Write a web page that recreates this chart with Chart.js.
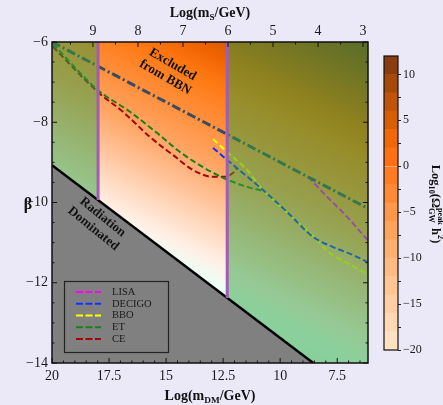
<!DOCTYPE html>
<html>
<head>
<meta charset="utf-8">
<script src="https://cdn.jsdelivr.net/npm/chart.js@4.4.0/dist/chart.umd.min.js"></script>
<style>
  html, body { margin: 0; padding: 0; background: #ebe9f8; }
  #wrap { position: relative; width: 443px; height: 405px; }
  #main { position: absolute; left: 0; top: 0; }
  #bar { position: absolute; left: 370px; top: 0; }
</style>
</head>
<body>
<div id="wrap">
  <canvas id="main" width="443" height="405"></canvas>
  <canvas id="bar" width="73" height="405"></canvas>
</div>
<script>
// x = Log(m_DM/GeV), y = beta
const lisaM = [8.77, 7.94, 7.06, 6.18];
const lisaBeta = [-9.36, -9.86, -10.36, -10.93];
const decigoM = [12.94, 12.32, 10.75, 9.69, 8.55, 7.68, 6.80, 6.18];
const decigoBeta = [-8.64, -8.94, -9.69, -10.24, -10.86, -11.11, -11.31, -11.48];
const bboM = [12.94, 12.32, 11.45, 10.75, 9.69, 8.55, 7.94, 7.06, 6.18];
const bboBeta = [-8.42, -8.74, -9.19, -9.69, -10.26, -10.83, -11.21, -11.51, -11.78];
const etM = [19.96, 17.98, 16.58, 15.39, 14.39, 13.38, 12.76, 12.28, 11.45, 10.75];
const etBeta = [-6.05, -7.20, -7.74, -8.27, -8.74, -9.12, -9.31, -9.44, -9.61, -9.71];
const ceM = [19.96, 17.98, 16.89, 15.70, 14.69, 13.82, 12.94, 12.41, 12.06, 11.89];
const ceBeta = [-6.12, -7.25, -7.74, -8.37, -8.82, -9.19, -9.36, -9.36, -9.26, -9.14];

const bbnM = [20, 6.15];
const bbnBeta = [-6, -10.15];
const radM = [20, 8.55];
const radBeta = [-9.07, -14];
// vertical bounds of the unshaded band
const bandM = [17.98, 12.32];
const bandBottomBeta = [-9.94, -12.38];

// heat map direction (low -> high), data coords
const heatFrom = [15.7, -12.43];
const heatTo = [9.12, -4.95];

// colour bar
const cbLevels = [-20, -18, -16, -14, -12, -10, -8, -6, -4, -2, 0, 2, 4, 6, 8, 10, 12];
const cbColors = ['#ffe0c2', '#ffd8b4', '#ffcfa4', '#ffc694', '#ffbb82', '#ffb070', '#ffa45c', '#ff984a',
  '#ff8a36', '#ff7c22', '#ff7010', '#f06808', '#d85e06', '#c05408', '#a64a0c', '#8a3e10'];

const seriesNames = ['LISA', 'DECIGO', 'BBO', 'ET', 'CE'];
const seriesColors = ['#ff00ff', '#1030ff', '#ffff00', '#188018', '#a00808'];

const heatStops = [[0, '#d4fff8'], [0.12, '#eafff8'], [0.19, '#fff0e6'], [0.26, '#ffdcc4'], [0.34, '#ffc49c'],
  [0.45, '#ffa462'], [0.57, '#ff8c36'], [0.66, '#ff7a14'], [0.74, '#f06400'], [0.82, '#cc5404'],
  [0.90, '#a8460c'], [1, '#7a3812']];

const FONT = '"Liberation Serif", serif';
Chart.defaults.font.family = FONT;
Chart.defaults.color = '#1a1a1a';

function pts(xs, ys) {
    return xs.map((v, i) => ({x: v, y: ys[i]}));
}

function minus(v) {
    return v < 0 ? '\u2212' + Math.abs(v) : String(v);
}

function near(v, step) {
    return Math.abs(v / step - Math.round(v / step)) < 1e-6;
}

function drawRich(ctx, parts, x, y, size) {
    const small = size * 0.66;
    const fn = 'bold ' + size + 'px ' + FONT;
    const fs = 'bold ' + small + 'px ' + FONT;
    const widths = parts.map(p => {
        if (p[1] === 0) { ctx.font = fn; return ctx.measureText(p[0]).width; }
        ctx.font = fs;
        let w = ctx.measureText(p[0]).width;
        if (p[2]) w = Math.max(w, ctx.measureText(p[2]).width);
        return w;
    });
    let cx = x - widths.reduce((a, b) => a + b, 0) / 2;
    ctx.textAlign = 'left';
    ctx.textBaseline = 'middle';
    parts.forEach((p, i) => {
        if (p[1] === 0) {
            ctx.font = fn;
            ctx.fillText(p[0], cx, y);
        } else {
            ctx.font = fs;
            if (p[1] === 1) ctx.fillText(p[0], cx, y + size * 0.3);
            if (p[1] === 2) ctx.fillText(p[0], cx, y - size * 0.38);
            if (p[2]) ctx.fillText(p[2], cx, y - size * 0.42);
        }
        cx += widths[i];
    });
}

const heatPlugin = {
    id: 'heat',
    beforeDatasetsDraw(chart) {
        const {ctx, chartArea: a, scales: {x, y}} = chart;
        const g = ctx.createLinearGradient(x.getPixelForValue(heatFrom[0]), y.getPixelForValue(heatFrom[1]),
            x.getPixelForValue(heatTo[0]), y.getPixelForValue(heatTo[1]));
        heatStops.forEach(s => g.addColorStop(s[0], s[1]));
        ctx.save();
        ctx.fillStyle = g;
        ctx.fillRect(a.left, a.top, a.width, a.height);
        ctx.restore();
    }
};

const decorPlugin = {
    id: 'decor',
    afterDatasetsDraw(chart) {
        const {ctx, chartArea: a, scales} = chart;
        ctx.save();
        ctx.fillStyle = '#111';

        // region labels
        ctx.font = 'bold 13px ' + FONT;
        ctx.textAlign = 'center';
        ctx.textBaseline = 'middle';
        ctx.save();
        ctx.translate(169, 71);
        ctx.rotate(30 * Math.PI / 180);
        ctx.fillText('Excluded', 0, -7.5);
        ctx.fillText('from BBN', 0, 7.5);
        ctx.restore();
        ctx.save();
        ctx.translate(98, 223);
        ctx.rotate(39 * Math.PI / 180);
        ctx.fillText('Radiation', 0, -7.5);
        ctx.fillText('Dominated', 0, 7.5);
        ctx.restore();

        // legend
        ctx.strokeStyle = '#222';
        ctx.lineWidth = 1.2;
        ctx.strokeRect(64.5, 281.5, 104, 71);
        ctx.font = '10.5px ' + FONT;
        ctx.textAlign = 'left';
        seriesNames.forEach((name, i) => {
            const yy = 292 + i * 11.75;
            ctx.save();
            ctx.strokeStyle = seriesColors[i];
            ctx.lineWidth = 2;
            ctx.setLineDash([7, 2.5]);
            ctx.beginPath();
            ctx.moveTo(76, yy);
            ctx.lineTo(101, yy);
            ctx.stroke();
            ctx.restore();
            ctx.fillStyle = '#1a1a1a';
            ctx.fillText(name, 112, yy);
        });

        // frame
        ctx.strokeStyle = '#111';
        ctx.lineWidth = 1.5;
        ctx.strokeRect(a.left, a.top, a.right - a.left, a.bottom - a.top);

        // inward ticks
        ctx.lineWidth = 1;
        ctx.beginPath();
        scales.x.ticks.forEach(t => {
            const p = scales.x.getPixelForValue(t.value);
            const l = t.label ? 5 : 2.5;
            ctx.moveTo(p, a.bottom); ctx.lineTo(p, a.bottom - l);
        });
        scales.x2.ticks.forEach(t => {
            const p = scales.x2.getPixelForValue(t.value);
            const l = t.label ? 5 : 2.5;
            ctx.moveTo(p, a.top); ctx.lineTo(p, a.top + l);
        });
        scales.y.ticks.forEach(t => {
            const p = scales.y.getPixelForValue(t.value);
            const l = t.label ? 5 : 2.5;
            ctx.moveTo(a.left, p); ctx.lineTo(a.left + l, p);
            ctx.moveTo(a.right, p); ctx.lineTo(a.right - l, p);
        });
        ctx.stroke();
        ctx.restore();
    },
    afterDraw(chart) {
        const ctx = chart.ctx;
        ctx.save();
        ctx.fillStyle = '#111';
        drawRich(ctx, [['Log(m', 0], ['S', 1], ['/GeV)', 0]], 210, 13, 14);
        drawRich(ctx, [['Log(m', 0], ['DM', 1], ['/GeV)', 0]], 210, 396, 14);
        ctx.font = 'bold 16px ' + FONT;
        ctx.textAlign = 'center';
        ctx.textBaseline = 'middle';
        ctx.fillText('\u03b2', 28, 205);
        ctx.restore();
    }
};

const gwData = [[lisaM, lisaBeta], [decigoM, decigoBeta], [bboM, bboBeta], [etM, etBeta], [ceM, ceBeta]];
const gwSets = gwData.map((d, i) => ({
    label: seriesNames[i],
    data: pts(d[0], d[1]),
    borderColor: seriesColors[i],
    borderWidth: 2,
    borderDash: [6, 3],
    cubicInterpolationMode: 'monotone',
    order: 5
}));

const shade = 'rgba(48,160,64,0.5)';

new Chart(document.getElementById('main'), {
    type: 'line',
    data: {
        datasets: [
            {label: 'band left', data: pts([bandM[0], bandM[0]], [-6, bandBottomBeta[0]]),
                borderColor: '#a25cb6', borderWidth: 3, order: 1},
            {label: 'band right', data: pts([bandM[1], bandM[1]], [-6, bandBottomBeta[1]]),
                borderColor: '#a25cb6', borderWidth: 3, order: 1},
            {label: 'Radiation Dominated', data: pts(radM, radBeta),
                borderColor: '#000', borderWidth: 2.5, backgroundColor: '#808080', fill: 'start', order: 2},
            {label: 'shade left', data: pts([20, bandM[0]], [-6, -6]),
                borderColor: 'transparent', borderWidth: 0, backgroundColor: shade, fill: 'start', order: 3},
            {label: 'shade right', data: pts([bandM[1], 6.15], [-6, -6]),
                borderColor: 'transparent', borderWidth: 0, backgroundColor: shade, fill: 'start', order: 3},
            {label: 'BBN', data: pts(bbnM, bbnBeta),
                borderColor: '#3b4a5e', borderWidth: 3, borderDash: [9, 3, 2, 3], order: 4},
            ...gwSets
        ]
    },
    options: {
        responsive: false,
        animation: false,
        layout: {padding: {left: 0, right: 75, top: 0, bottom: 0}},
        elements: {point: {radius: 0}, line: {tension: 0, fill: false}},
        plugins: {legend: {display: false}, tooltip: {enabled: false}},
        scales: {
            x: {
                type: 'linear', position: 'bottom', min: 6.15, max: 20, reverse: true,
                grid: {display: false, drawTicks: false}, border: {display: false},
                ticks: {
                    stepSize: 0.5, autoSkip: false, maxRotation: 0, minRotation: 0, includeBounds: false,
                    padding: 5, font: {size: 14},
                    callback: v => near(v, 2.5) ? (near(v, 1) ? String(Math.round(v)) : v.toFixed(1)) : ''
                },
                afterFit: s => { s.height = 42; }
            },
            x2: {
                type: 'linear', position: 'top', min: 2.89, max: 9.91, reverse: true,
                grid: {display: false, drawTicks: false}, border: {display: false},
                ticks: {
                    stepSize: 0.5, autoSkip: false, maxRotation: 0, minRotation: 0, includeBounds: false,
                    padding: 2, font: {size: 14},
                    callback: v => near(v, 1) ? String(Math.round(v)) : ''
                },
                afterFit: s => { s.height = 42; }
            },
            y: {
                type: 'linear', min: -14, max: -6,
                grid: {display: false, drawTicks: false}, border: {display: false},
                ticks: {
                    stepSize: 0.5, autoSkip: false, includeBounds: false, padding: 4, font: {size: 14},
                    callback: v => near(v, 2) ? minus(Math.round(v)) : ''
                },
                afterFit: s => { s.width = 52; }
            }
        }
    },
    plugins: [heatPlugin, decorPlugin]
});

const barPlugin = {
    id: 'cbframe',
    afterDraw(chart) {
        const {ctx, chartArea: a} = chart;
        ctx.save();
        ctx.strokeStyle = '#111';
        ctx.lineWidth = 1.2;
        ctx.strokeRect(a.left, a.top, a.right - a.left, a.bottom - a.top);
        ctx.fillStyle = '#111';
        ctx.translate(65, 204);
        ctx.rotate(Math.PI / 2);
        drawRich(ctx, [['Log', 0], ['10', 1], ['(\u03a9', 0], ['GW', 1, 'peak'], [' h', 0], ['2', 2], [')', 0]], 0, 0, 12.5);
        ctx.restore();
    }
};

new Chart(document.getElementById('bar'), {
    type: 'bar',
    data: {
        labels: [''],
        datasets: cbColors.map((c, i) => ({
            data: [[cbLevels[i], cbLevels[i + 1]]],
            backgroundColor: c,
            borderWidth: 0,
            grouped: false,
            barPercentage: 1,
            categoryPercentage: 1
        }))
    },
    options: {
        responsive: false,
        animation: false,
        layout: {padding: {left: 14, right: 0, top: 56, bottom: 55}},
        plugins: {legend: {display: false}, tooltip: {enabled: false}},
        scales: {
            x: {display: false},
            y: {
                position: 'right', min: -20, max: 12,
                grid: {drawOnChartArea: false, tickLength: 3, color: '#222'},
                border: {display: false},
                ticks: {
                    stepSize: 2.5, includeBounds: false, autoSkip: false, padding: 2, font: {size: 12},
                    callback: v => near(v, 5) ? minus(Math.round(v)) : ''
                },
                afterFit: s => { s.width = 45; }
            }
        }
    },
    plugins: [barPlugin]
});
</script>
</body>
</html>
